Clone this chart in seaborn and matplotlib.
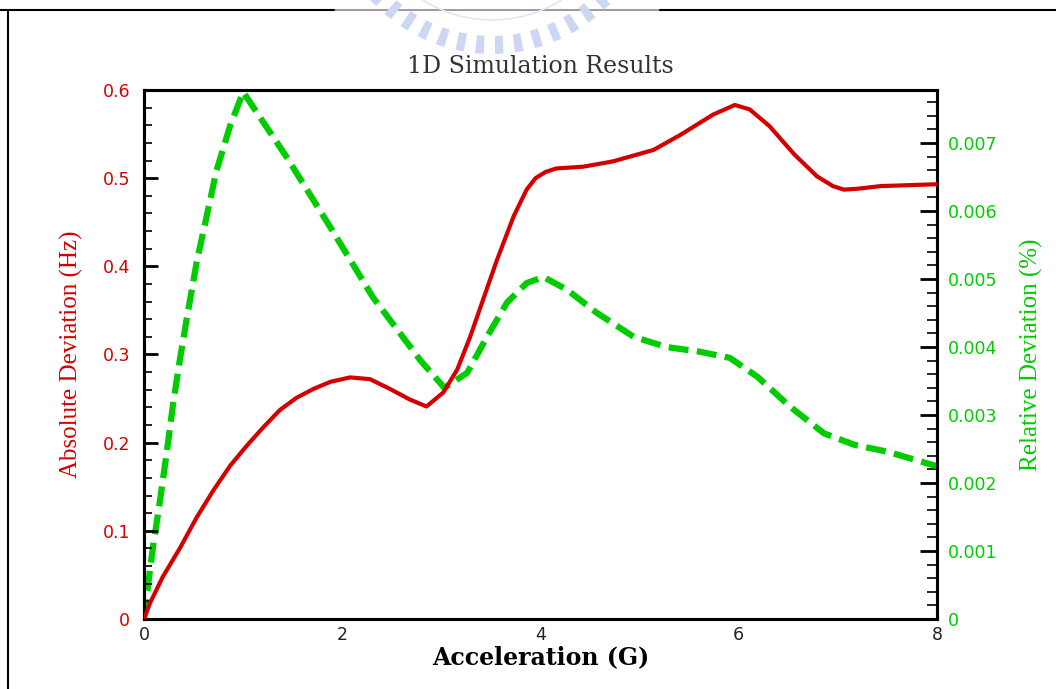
import pandas as pd
import seaborn as sns
import matplotlib.pyplot as plt
from matplotlib.lines import Line2D
from matplotlib.patches import Arc
from matplotlib.ticker import MultipleLocator

# values
abs_x = [0.0, 0.06, 0.19, 0.36, 0.53, 0.70, 0.87, 1.04, 1.20, 1.37, 1.54, 1.71, 1.88,
         2.08, 2.28, 2.48, 2.68, 2.85, 3.02, 3.16, 3.29, 3.42, 3.56, 3.73, 3.86, 3.95,
         4.05, 4.16, 4.43, 4.73, 5.14, 5.41, 5.74, 5.96, 6.11, 6.31, 6.56, 6.79, 6.95,
         7.06, 7.20, 7.43, 7.97, 8.0]
abs_dev = [0.0, 0.018, 0.048, 0.080, 0.115, 0.146, 0.174, 0.197, 0.217, 0.237, 0.251,
           0.261, 0.269, 0.274, 0.272, 0.261, 0.249, 0.241, 0.257, 0.283, 0.320, 0.362,
           0.407, 0.457, 0.487, 0.500, 0.507, 0.511, 0.513, 0.519, 0.532, 0.549, 0.572,
           0.583, 0.578, 0.559, 0.527, 0.502, 0.491, 0.487, 0.488, 0.491, 0.493, 0.493]

rel_x = [0.0, 0.04, 0.09, 0.16, 0.23, 0.29, 0.36, 0.43, 0.53, 0.63, 0.73, 0.87, 1.0,
         1.44, 1.88, 2.31, 2.79, 3.03, 3.26, 3.46, 3.66, 3.86, 4.03, 4.27, 4.57, 4.94,
         5.27, 5.61, 5.91, 6.19, 6.52, 6.86, 7.17, 7.50, 7.97, 8.0]
rel_dev = [0.0, 0.00049, 0.00106, 0.00173, 0.00246, 0.00313, 0.0038, 0.00441, 0.00524,
           0.00591, 0.00659, 0.00726, 0.00775, 0.00679, 0.00576, 0.00473, 0.0038, 0.0034,
           0.00362, 0.00415, 0.00465, 0.00494, 0.00503, 0.00484, 0.0045, 0.00415, 0.0040,
           0.00393, 0.00384, 0.00356, 0.00312, 0.00273, 0.00256, 0.00246, 0.00226, 0.00225]

abs_df = pd.DataFrame({"Acceleration": abs_x, "Absolute": abs_dev})
rel_df = pd.DataFrame({"Acceleration": rel_x, "Relative": rel_dev})

red = "#d40000"
green = "#00cc00"

sns.set_style("white")
plt.rcParams["font.family"] = ["DejaVu Sans"]

fig = plt.figure(figsize=(10.56, 6.89), dpi=100)
ax = fig.add_axes([0.1364, 0.1016, 0.7509, 0.7678])
ax2 = ax.twinx()

sns.lineplot(data=abs_df, x="Acceleration", y="Absolute", ax=ax, color=red,
             linewidth=3, zorder=3)
sns.lineplot(data=rel_df, x="Acceleration", y="Relative", ax=ax2, color=green,
             linewidth=4.5, zorder=2)
ax2.lines[0].set_dashes((3.2, 1.35))
# red line over the green one
ax.set_zorder(ax2.get_zorder() + 1)
ax.patch.set_visible(False)

ax.set_xlim(0, 8)
ax.set_ylim(0, 0.6)
ax2.set_ylim(0, 0.00778)

ax.xaxis.set_major_locator(MultipleLocator(2))
ax.xaxis.set_minor_locator(MultipleLocator(0.4))
ax.yaxis.set_minor_locator(MultipleLocator(0.02))
ax2.yaxis.set_minor_locator(MultipleLocator(0.0002))

ax.set_yticks([0, 0.1, 0.2, 0.3, 0.4, 0.5, 0.6])
ax.set_yticklabels(["0", "0.1", "0.2", "0.3", "0.4", "0.5", "0.6"])
ax2.set_yticks([0, 0.001, 0.002, 0.003, 0.004, 0.005, 0.006, 0.007])
ax2.set_yticklabels(["0", "0.001", "0.002", "0.003", "0.004", "0.005", "0.006", "0.007"])

for a in (ax, ax2):
    for s in a.spines.values():
        s.set_color("black")
        s.set_linewidth(2.2)

ax.tick_params(axis="both", which="major", direction="in", length=10, width=2,
               color="black", labelsize=12.5, top=False, right=False)
ax.tick_params(axis="both", which="minor", direction="in", length=6, width=1.2,
               color="black", top=False, right=False)
ax.tick_params(axis="y", which="both", labelcolor=red, pad=10)
ax.tick_params(axis="x", which="both", labelcolor="#222222", pad=5)
ax2.tick_params(axis="y", which="major", direction="in", length=12, width=2,
                color="black", labelsize=12.5, labelcolor=green, pad=8)
ax2.tick_params(axis="y", which="minor", direction="in", length=7, width=1.2,
                color="black")

ax.set_xlabel("Acceleration (G)", fontfamily="DejaVu Serif", fontweight="bold",
              fontsize=17, color="black", labelpad=1)
ax.set_ylabel("Absolute Deviation (Hz)", fontfamily="Liberation Serif", fontsize=18,
              color=red, labelpad=14)
ax2.set_ylabel("Relative Deviation (%)", fontfamily="Liberation Serif", fontsize=18,
               color=green, labelpad=16)
ax.set_title("1D Simulation Results", fontfamily="DejaVu Serif", fontsize=17,
             color="#333333", pad=12)

# page frame and faint watermark from the source document
top = 1 - 10 / 689
fig.add_artist(Line2D([0, 335 / 1056], [top, top], transform=fig.transFigure,
                      color="black", linewidth=1.5, zorder=0))
fig.add_artist(Line2D([335 / 1056, 660 / 1056], [top, top], transform=fig.transFigure,
                      color="#8a8a8a", linewidth=1.2, zorder=0))
fig.add_artist(Line2D([660 / 1056, 1], [top, top], transform=fig.transFigure,
                      color="black", linewidth=1.5, zorder=0))
fig.add_artist(Line2D([8 / 1056, 8 / 1056], [0, top], transform=fig.transFigure,
                      color="black", linewidth=1.5, zorder=0))
wm_center = (492, 689 + 110)
fig.add_artist(Arc(wm_center, 310, 310, theta1=180, theta2=360, transform=None,
                   color="#cdd6f2", linewidth=13, linestyle=(0, (0.45, 0.6)),
                   zorder=1))
fig.add_artist(Arc(wm_center, 260, 260, theta1=180, theta2=360, transform=None,
                   color="#e0e6f7", linewidth=1.2, zorder=1))

fig.savefig("out.png", dpi=100)
